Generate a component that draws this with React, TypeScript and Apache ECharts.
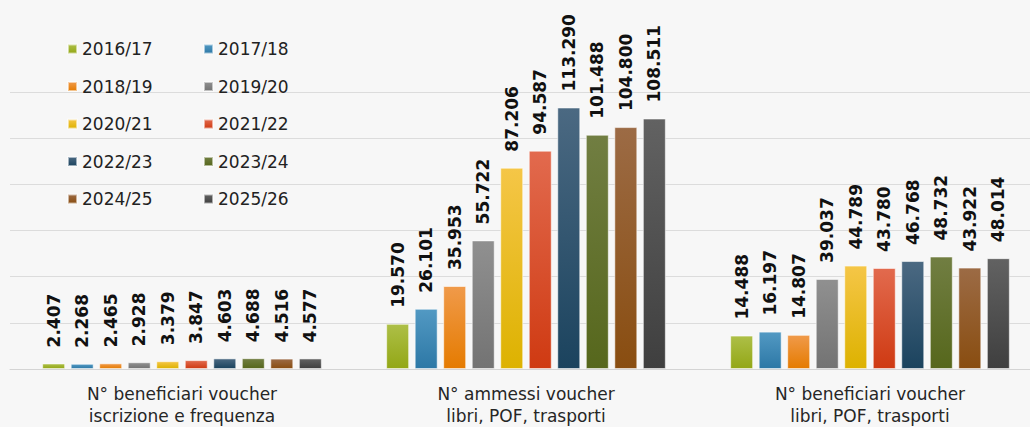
import React, { useEffect, useRef } from "react";
import * as echarts from "echarts";

const categories = [
  "N° beneficiari voucher\niscrizione e frequenza",
  "N° ammessi voucher\nlibri, POF, trasporti",
  "N° beneficiari voucher\nlibri, POF, trasporti",
];

const seasons = [
  "2016/17", "2017/18", "2018/19", "2019/20", "2020/21",
  "2021/22", "2022/23", "2023/24", "2024/25", "2025/26",
];

const iscrizioneFrequenza = [2407, 2268, 2465, 2928, 3379, 3847, 4603, 4688, 4516, 4577];
const ammessiLibri = [19570, 26101, 35953, 55722, 87206, 94587, 113290, 101488, 104800, 108511];
const beneficiariLibri = [14488, 16197, 14807, 39037, 44789, 43780, 46768, 48732, 43922, 48014];

const colorStops: [string, string][] = [
  ["#adbf47", "#93a716"],
  ["#5299c3", "#2d78a6"],
  ["#f09a4a", "#e57b00"],
  ["#909090", "#737373"],
  ["#f5c647", "#ddb200"],
  ["#e26a4e", "#cf3a12"],
  ["#4b6982", "#1b435e"],
  ["#717e42", "#56671c"],
  ["#9c6b45", "#894d10"],
  ["#626262", "#3f3f3f"],
];

const fmt = (v: number) => String(v).replace(/\B(?=(\d{3})+(?!\d))/g, ".");

export default function App() {
  const ref = useRef<HTMLDivElement>(null);
  useEffect(() => {
    if (!ref.current) return;
    const chart = echarts.init(ref.current, undefined, { renderer: "svg" });
    const series = seasons.map((s, i) => ({
      name: s,
      type: "bar",
      barWidth: 23,
      barGap: "24%",
      data: [iscrizioneFrequenza[i], ammessiLibri[i], beneficiariLibri[i]],
      itemStyle: {
        color: new echarts.graphic.LinearGradient(0, 0, 0, 1, [
          { offset: 0, color: colorStops[i][0] },
          { offset: 1, color: colorStops[i][1] },
        ]),
        borderColor: "rgba(255,255,255,0.55)",
        borderWidth: 1,
      },
      label: {
        show: true,
        position: "top",
        rotate: 90,
        align: "left",
        verticalAlign: "middle",
        distance: 16,
        fontFamily: "DejaVu Sans",
        fontWeight: "bold",
        fontSize: 17,
        color: "#111111",
        formatter: (p: any) => fmt(p.value),
      },
    }));
    const legendCommon = {
      orient: "vertical",
      top: 39,
      padding: 0,
      icon: "rect",
      itemWidth: 9,
      itemHeight: 9,
      itemGap: 17.5,
      itemTextGap: 6,
      textStyle: {
        fontFamily: "DejaVu Sans",
        fontSize: 17,
        lineHeight: 20,
        color: "#222222",
      },
    };
    chart.setOption({
      animation: false,
      backgroundColor: "#f7f7f7",
      legend: [
        { ...legendCommon, left: 67, data: seasons.filter((_, i) => i % 2 === 0) },
        { ...legendCommon, left: 203, data: seasons.filter((_, i) => i % 2 === 1) },
      ],
      grid: {
        left: 10,
        top: 92,
        width: 1032,
        height: 277,
        containLabel: false,
        outerBoundsMode: "none",
      },
      xAxis: {
        type: "category",
        data: categories,
        axisLine: { lineStyle: { color: "#d4d4d4", width: 1 } },
        axisTick: { show: false },
        axisLabel: {
          interval: 0,
          margin: 14,
          fontFamily: "DejaVu Sans",
          fontSize: 17,
          lineHeight: 22,
          color: "#262626",
        },
      },
      yAxis: {
        type: "value",
        min: 0,
        max: 120000,
        interval: 20000,
        axisLabel: { show: false },
        axisLine: { show: false },
        axisTick: { show: false },
        splitLine: { lineStyle: { color: "#dcdcdc", width: 1 } },
      },
      series,
    });
    return () => chart.dispose();
  }, []);
  return (
    <div
      ref={ref}
      style={{ position: "fixed", left: 0, top: 0, width: 1030, height: 427 }}
    />
  );
}
